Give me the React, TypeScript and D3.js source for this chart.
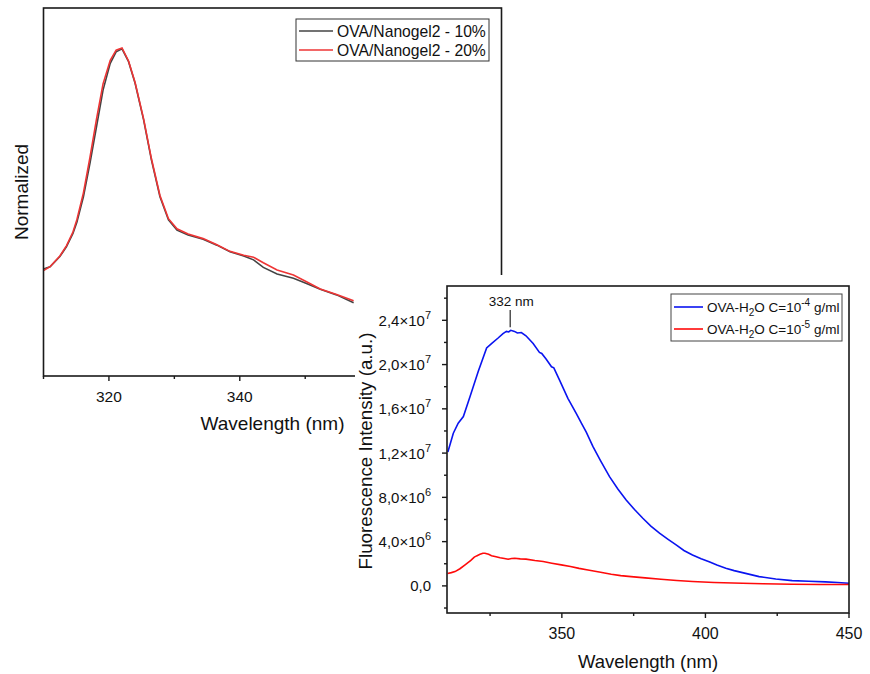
import React from "react";
import * as d3 from "d3";

// ---------- Back chart (normalized) ----------
const backWl = [310.0, 311.0, 312.5, 313.5, 314.5, 315.1, 316.1, 317.1, 318.1, 319.1, 320.2, 321.1, 322.0, 323.0, 324.0, 325.3, 326.5, 327.8, 329.1, 330.4, 332.1, 334.4, 336.5, 338.5, 340.6, 342.1, 343.6, 345.7, 348.2, 350.2, 352.3, 354.8, 357.4];
const backBlack = [0.327, 0.334, 0.365, 0.395, 0.436, 0.47, 0.548, 0.65, 0.762, 0.874, 0.956, 0.991, 1.0, 0.961, 0.895, 0.783, 0.66, 0.548, 0.477, 0.446, 0.431, 0.418, 0.4, 0.38, 0.367, 0.355, 0.332, 0.312, 0.299, 0.283, 0.265, 0.248, 0.224];
const backRed = [0.322, 0.334, 0.367, 0.398, 0.44, 0.478, 0.56, 0.668, 0.785, 0.893, 0.965, 0.996, 1.003, 0.963, 0.897, 0.786, 0.664, 0.552, 0.481, 0.45, 0.434, 0.42, 0.401, 0.381, 0.369, 0.363, 0.346, 0.324, 0.309, 0.288, 0.266, 0.249, 0.23];
const backLegend = ["OVA/Nanogel2 - 10%", "OVA/Nanogel2 - 20%"];
const backMajorTicks = [320, 340, 360, 380];
const backMinorTicks = [310, 330, 350, 370];

// ---------- Front chart (fluorescence, values in 1e6) ----------
const blueWl = [310.3, 312.2, 313.9, 315.7, 318.0, 320.9, 323.8, 325.5, 327.8, 329.5, 330.7, 331.5, 332.2, 333.5, 334.5, 335.9, 337.5, 340.0, 342.2, 343.0, 344.5, 346.4, 347.2, 349.2, 352.1, 355.0, 356.8, 358.5, 360.8, 363.5, 366.6, 369.5, 372.4, 375.3, 378.2, 381.0, 384.0, 387.0, 389.8, 392.5, 395.5, 398.5, 401.3, 404.0, 407.1, 410.0, 412.9, 418.7, 424.5, 430.2, 436.0, 441.8, 446.0, 450.0];
const blueVal = [12.1, 13.8, 14.7, 15.3, 17.1, 19.4, 21.5, 21.9, 22.4, 22.8, 23.0, 22.95, 23.1, 23.0, 22.85, 22.9, 22.6, 21.9, 21.1, 21.0, 20.5, 19.8, 19.7, 18.6, 16.95, 15.6, 14.7, 13.9, 12.6, 11.3, 9.87, 8.75, 7.77, 6.9, 6.11, 5.4, 4.76, 4.2, 3.7, 3.2, 2.8, 2.45, 2.19, 1.88, 1.6, 1.38, 1.2, 0.84, 0.62, 0.48, 0.42, 0.36, 0.3, 0.24];
const redWl = [310.2, 311.5, 312.8, 314.5, 316.3, 318.3, 319.5, 320.3, 321.5, 322.5, 323.2, 324.5, 325.5, 326.7, 328.5, 330.0, 331.3, 332.5, 333.6, 335.5, 337.5, 340.6, 343.5, 346.5, 349.8, 353.0, 356.0, 359.1, 363.0, 367.2, 370.5, 374.1, 379.0, 384.5, 390.0, 395.5, 403.0, 412.9, 420.0, 430.2, 440.0, 450.0];
const redVal = [1.12, 1.2, 1.29, 1.55, 1.9, 2.3, 2.6, 2.71, 2.85, 2.95, 2.95, 2.85, 2.72, 2.65, 2.55, 2.48, 2.41, 2.48, 2.5, 2.44, 2.42, 2.29, 2.2, 2.05, 1.9, 1.75, 1.58, 1.44, 1.25, 1.05, 0.93, 0.84, 0.72, 0.6, 0.48, 0.39, 0.31, 0.24, 0.2, 0.15, 0.13, 0.12];
const frontMajorX = [350, 400, 450];
const frontMinorX = [325, 375, 425];
const frontMajorY = [0, 4, 8, 12, 16, 20, 24];
const frontMinorY = [-2, 2, 6, 10, 14, 18, 22, 26];
const peakLabel = "332 nm";
const peakWl = 332;

const FONT = "'Liberation Sans', Arial, Helvetica, sans-serif";
const AX = "#1a1a1a";

function fmtY(v: number) {
  if (v === 0) return { base: "0,0", exp: "" };
  const val = v * 1e6;
  const e = Math.floor(Math.log10(val));
  const m = (val / Math.pow(10, e)).toFixed(1).replace(".", ",");
  return { base: `${m}×10`, exp: String(e) };
}

export default function App() {
  // back scales
  const bx = d3.scaleLinear().domain([310, 380]).range([43.5, 501.5]);
  const by = d3.scaleLinear().domain([0, 1.125]).range([376, 8]);
  const bLine = (vals: number[]) =>
    d3.line<number>().x((_, i) => bx(backWl[i])).y((d) => by(d))(vals) || "";

  // front scales
  const fx = d3.scaleLinear().domain([310, 450]).range([447, 849]);
  const fy = d3.scaleLinear().domain([-2.45, 27.1]).range([613, 286]);
  const fLine = (wl: number[], vals: number[]) =>
    d3.line<number>().x((_, i) => fx(wl[i])).y((d) => fy(d))(vals) || "";

  const bLeft = bx.range()[0], bRight = bx.range()[1];
  const bTop = by.range()[1], bBottom = by.range()[0];
  const fLeft = fx.range()[0], fRight = fx.range()[1];
  const fTop = fy.range()[1], fBottom = fy.range()[0];

  const peakY = fy(23.1);

  return (
    <svg width={870} height={674} style={{ position: "absolute", left: 0, top: 0, background: "#fff" }} fontFamily={FONT}>
      <defs>
        <clipPath id="bclip"><rect x={bLeft} y={bTop} width={bRight - bLeft} height={bBottom - bTop} /></clipPath>
        <clipPath id="fclip"><rect x={fLeft} y={fTop} width={fRight - fLeft} height={fBottom - fTop} /></clipPath>
      </defs>
      <rect x={0} y={0} width={870} height={674} fill="#fff" />

      {/* ---------- Back chart ---------- */}
      <g>
        <g clipPath="url(#bclip)">
          <path d={bLine(backBlack)} fill="none" stroke="#444" strokeWidth={1.6} />
          <path d={bLine(backRed)} fill="none" stroke="#ee3535" strokeWidth={1.6} />
        </g>
        <rect x={bLeft} y={bTop} width={bRight - bLeft} height={bBottom - bTop} fill="none" stroke={AX} strokeWidth={1.6} />
        {backMajorTicks.map((t) => (
          <g key={"bm" + t}>
            <line x1={bx(t)} x2={bx(t)} y1={bBottom} y2={bBottom + 5} stroke={AX} strokeWidth={1.4} />
            <text x={bx(t)} y={bBottom + 26} textAnchor="middle" fontSize={15.5} fill="#111">{t}</text>
          </g>
        ))}
        {backMinorTicks.map((t) => (
          <line key={"bn" + t} x1={bx(t)} x2={bx(t)} y1={bBottom} y2={bBottom + 3} stroke={AX} strokeWidth={1.4} />
        ))}
        <text x={(bLeft + bRight) / 2} y={429.5} textAnchor="middle" fontSize={19} fill="#111">Wavelength (nm)</text>
        <text transform={`translate(27.5,${(bTop + bBottom) / 2}) rotate(-90)`} textAnchor="middle" fontSize={19} fill="#111">Normalized</text>
        {/* legend */}
        <rect x={296} y={19} width={193} height={42} fill="#fff" stroke="#333" strokeWidth={1} />
        {backLegend.map((s, i) => (
          <g key={s}>
            <line x1={299} x2={333} y1={31 + i * 19} y2={31 + i * 19} stroke={i === 0 ? "#444" : "#ee3535"} strokeWidth={1.6} />
            <text x={337} y={31 + i * 19 + 5.5} fontSize={15.7} fill="#111">{s}</text>
          </g>
        ))}
      </g>

      {/* ---------- Front chart ---------- */}
      <rect x={355} y={275} width={515} height={399} fill="#fff" />
      <g>
        <g clipPath="url(#fclip)">
          <path d={fLine(blueWl, blueVal)} fill="none" stroke="#0a14f0" strokeWidth={1.6} />
          <path d={fLine(redWl, redVal)} fill="none" stroke="#ff0a0a" strokeWidth={1.6} />
        </g>
        <rect x={fLeft} y={fTop} width={fRight - fLeft} height={fBottom - fTop} fill="none" stroke={AX} strokeWidth={1.6} />
        {frontMajorX.map((t) => (
          <g key={"fx" + t}>
            <line x1={fx(t)} x2={fx(t)} y1={fBottom} y2={fBottom + 5} stroke={AX} strokeWidth={1.4} />
            <text x={fx(t)} y={fBottom + 25.5} textAnchor="middle" fontSize={16} fill="#111">{t}</text>
          </g>
        ))}
        {frontMinorX.map((t) => (
          <line key={"fxn" + t} x1={fx(t)} x2={fx(t)} y1={fBottom} y2={fBottom + 3} stroke={AX} strokeWidth={1.4} />
        ))}
        {frontMajorY.map((t) => {
          const f = fmtY(t);
          return (
            <g key={"fy" + t}>
              <line x1={fLeft - 5} x2={fLeft} y1={fy(t)} y2={fy(t)} stroke={AX} strokeWidth={1.4} />
              <text x={431} y={fy(t) + 5.5} textAnchor="end" fontSize={15} fill="#111">
                <tspan>{f.base}</tspan>
                {f.exp && <tspan dy={-7} fontSize={11}>{f.exp}</tspan>}
              </text>
            </g>
          );
        })}
        {frontMinorY.map((t) => (
          <line key={"fyn" + t} x1={fLeft - 3} x2={fLeft} y1={fy(t)} y2={fy(t)} stroke={AX} strokeWidth={1.4} />
        ))}
        <text x={(fLeft + fRight) / 2} y={668} textAnchor="middle" fontSize={18.5} fill="#111">Wavelength (nm)</text>
        <text transform={`translate(371.5,451) rotate(-90)`} textAnchor="middle" fontSize={18.8} fill="#111">Fluorescence Intensity (a.u.)</text>
        {/* peak annotation */}
        <line x1={fx(peakWl)} x2={fx(peakWl)} y1={310} y2={peakY - 3} stroke="#111" strokeWidth={1.1} />
        <text x={fx(peakWl) + 1} y={306} textAnchor="middle" fontSize={13.5} fill="#111">{peakLabel}</text>
        {/* legend */}
        <rect x={671} y={294} width={171} height={47} fill="#fff" stroke="#444" strokeWidth={1} />
        {[{ c: "#0a14f0", e: "-4" }, { c: "#ff0a0a", e: "-5" }].map((it, i) => {
          const yy = 307 + i * 22;
          return (
            <g key={it.e}>
              <line x1={674} x2={703} y1={yy} y2={yy} stroke={it.c} strokeWidth={1.6} />
              <text x={707} y={yy + 5} fontSize={13.5} fill="#111">
                <tspan>OVA-H</tspan>
                <tspan dy={4} fontSize={10}>2</tspan>
                <tspan dy={-4}>O C=10</tspan>
                <tspan dy={-6} fontSize={10}>{it.e}</tspan>
                <tspan dy={6}> g/ml</tspan>
              </text>
            </g>
          );
        })}
      </g>
    </svg>
  );
}
